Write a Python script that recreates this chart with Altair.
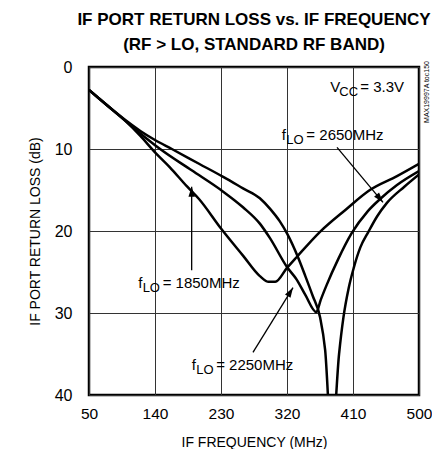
import altair as alt
import pandas as pd
import numpy as np

FONT = "'Liberation Sans', Arial, Helvetica, sans-serif"

# ---- data ----
freq_1850 = [50, 75, 100, 120, 140, 160, 184, 200, 230, 260, 283, 295, 304, 320, 333, 365, 400, 433, 470, 500]
rl_1850 = [2.8, 4.7, 6.6, 8.4, 10.4, 12.2, 14.6, 16.1, 19.7, 23.0, 25.5, 26.2, 26.2, 24.5, 23.2, 20.1, 17.4, 15.0, 13.3, 11.8]

freq_2250 = [50, 75, 100, 120, 147, 190, 233, 260, 283, 297, 320, 333, 345, 360, 366, 374, 390, 408, 430, 447, 470, 500]
rl_2250 = [2.8, 4.7, 6.6, 8.1, 10.0, 12.6, 15.2, 17.1, 19.1, 20.9, 24.4, 25.9, 27.8, 29.9, 28.4, 26.6, 23.4, 20.3, 17.6, 16.1, 14.4, 12.7]

freq_2650 = [50, 75, 100, 120, 140, 163, 200, 233, 260, 283, 297, 310, 320, 335, 345, 355, 365, 372, 381, 391, 397, 404, 411, 420, 431, 443, 456, 480, 500]
rl_2650 = [2.8, 4.7, 6.5, 7.8, 8.9, 10.0, 11.8, 13.4, 14.8, 16.0, 17.3, 18.8, 20.3, 23.2, 25.5, 27.9, 30.5, 34.5, 46.0, 35.0, 30.5, 27.0, 24.5, 22.0, 20.1, 18.2, 16.6, 14.6, 13.1]

x_ticks = [50, 140, 230, 320, 410, 500]
y_ticks = [0, 10, 20, 30, 40]

title_lines = ["IF PORT RETURN LOSS vs. IF FREQUENCY", "(RF > LO, STANDARD RF BAND)"]

# annotation labels (f_LO)
lo_x = [313, 117, 190]
lo_y = [8.9, 27.0, 37.0]
lo_rest = ["= 2650MHz", "= 1850MHz", "= 2250MHz"]

# Vcc label
vcc_x = [379]
vcc_y = [3.0]

# arrows (tail -> tip)
arrow_x_tail = [190, 273.6, 388.2]
arrow_y_tail = [24.8, 34.8, 9.8]
arrow_x_tip = [190, 328.2, 450.9]
arrow_y_tip = [14.6, 26.9, 16.5]

W, H = 330, 328
XMIN, XMAX, YMIN, YMAX = 50, 500, 0, 40

curves = pd.concat([
    pd.DataFrame({"f": freq_1850, "rl": rl_1850, "lo": "1850"}),
    pd.DataFrame({"f": freq_2250, "rl": rl_2250, "lo": "2250"}),
    pd.DataFrame({"f": freq_2650, "rl": rl_2650, "lo": "2650"}),
])

xs = alt.Scale(domain=[XMIN, XMAX], nice=False, zero=False)
ys = alt.Scale(domain=[YMIN, YMAX], reverse=True, nice=False, zero=False)

x_enc = alt.X("f:Q", scale=xs, axis=alt.Axis(
    values=x_ticks, title="IF FREQUENCY (MHz)", grid=True, ticks=False, domain=False,
    labelFlush=False, labelPadding=11, labelFontSize=15.5, titleX=W / 2, titleY=51,
    titleBaseline="alphabetic", titleAlign="center"))
y_enc = alt.Y("rl:Q", scale=ys, axis=alt.Axis(
    values=y_ticks, title="IF PORT RETURN LOSS (dB)", grid=True, ticks=False, domain=False,
    labelFlush=False, labelPadding=17, titleX=-50, titleY=H / 2, titleAngle=270,
    titleBaseline="alphabetic", titleAlign="center"))

lines = alt.Chart(curves).mark_line(
    color="black", strokeWidth=2.5, interpolate="monotone", clip=True
).encode(x=x_enc, y=y_enc, detail="lo:N")

arrows = pd.DataFrame({"x": arrow_x_tail, "y": arrow_y_tail, "x2": arrow_x_tip, "y2": arrow_y_tip})
dxp = (np.array(arrow_x_tip) - np.array(arrow_x_tail)) * W / (XMAX - XMIN)
dyp = (np.array(arrow_y_tip) - np.array(arrow_y_tail)) * H / (YMAX - YMIN)
arrows["ang"] = np.mod(np.degrees(np.arctan2(dxp, -dyp)), 360)

rules = alt.Chart(arrows).mark_rule(color="black", strokeWidth=1.3).encode(
    x=alt.X("x:Q", scale=xs), y=alt.Y("y:Q", scale=ys),
    x2="x2:Q", y2="y2:Q")
heads = alt.Chart(arrows).mark_point(
    shape="M0,0L-0.65,2L0.65,2Z", filled=True, color="black", opacity=1, size=100
).encode(x=alt.X("x2:Q", scale=xs), y=alt.Y("y2:Q", scale=ys), angle=alt.Angle("ang:Q", scale=None))

MAIN, SUB = 15, 13
lo_df = pd.DataFrame({"x": lo_x, "y": lo_y, "rest": lo_rest})
tbase = dict(font=FONT, fontSize=MAIN, color="black", align="left", baseline="alphabetic")
lo_f = alt.Chart(lo_df).mark_text(**tbase).encode(
    x=alt.X("x:Q", scale=xs), y=alt.Y("y:Q", scale=ys), text=alt.value("f"))
lo_sub = alt.Chart(lo_df).mark_text(**{**tbase, "fontSize": SUB}, dx=4.5, dy=4).encode(
    x=alt.X("x:Q", scale=xs), y=alt.Y("y:Q", scale=ys), text=alt.value("LO"))
lo_rest_t = alt.Chart(lo_df).mark_text(**tbase, dx=24.5).encode(
    x=alt.X("x:Q", scale=xs), y=alt.Y("y:Q", scale=ys), text="rest:N")

vcc_df = pd.DataFrame({"x": vcc_x, "y": vcc_y})
v_main = alt.Chart(vcc_df).mark_text(**tbase).encode(
    x=alt.X("x:Q", scale=xs), y=alt.Y("y:Q", scale=ys), text=alt.value("V"))
v_sub = alt.Chart(vcc_df).mark_text(**{**tbase, "fontSize": SUB}, dx=9, dy=4).encode(
    x=alt.X("x:Q", scale=xs), y=alt.Y("y:Q", scale=ys), text=alt.value("CC"))
v_rest = alt.Chart(vcc_df).mark_text(**tbase, dx=30).encode(
    x=alt.X("x:Q", scale=xs), y=alt.Y("y:Q", scale=ys), text=alt.value("= 3.3V"))

side = alt.Chart(pd.DataFrame({"t": ["MAX19997A toc150"]})).mark_text(
    font=FONT, fontSize=7, color="black", angle=270, align="center", baseline="middle"
).encode(x=alt.value(W + 8), y=alt.value(25), text="t:N")

title_df = pd.DataFrame({"t": title_lines, "yy": [-42, -17]})
title_t = alt.Chart(title_df).mark_text(
    font=FONT, fontSize=17, fontWeight="bold", color="black", align="center", baseline="alphabetic"
).encode(x=alt.value(W / 2), y=alt.Y("yy:Q", scale=None), text="t:N")

chart = alt.layer(
    lines, rules, heads, lo_f, lo_sub, lo_rest_t, v_main, v_sub, v_rest, side, title_t
).properties(
    width=W, height=H,
    autosize=alt.AutoSizeParams(type="none"),
    padding={"left": 81, "top": 59, "right": 13, "bottom": 54},
).configure_view(
    stroke="black", strokeWidth=2.5
).configure_axis(
    labelFont=FONT, labelFontSize=16, labelColor="black",
    titleFont=FONT, titleFontSize=14, titleFontWeight="normal", titleColor="black",
    gridColor="#333333", gridWidth=1, gridOpacity=1,
)

chart.save("out.html", embed_options={"renderer": "svg", "actions": False})
